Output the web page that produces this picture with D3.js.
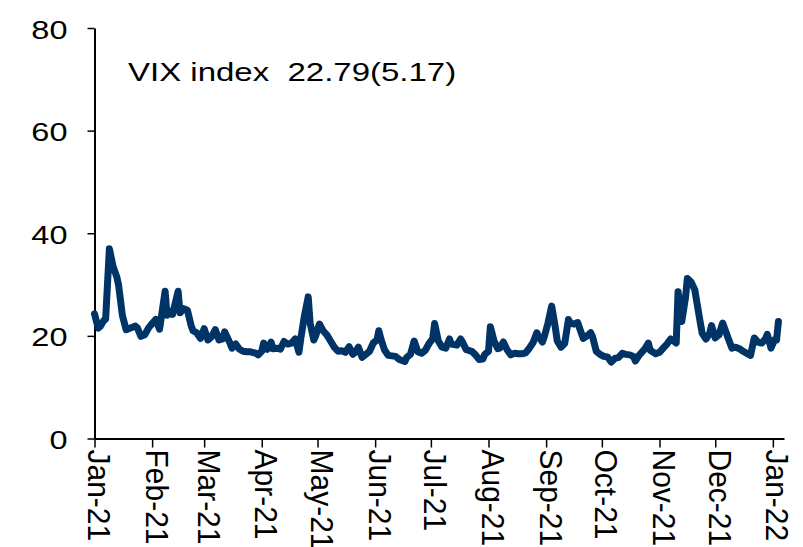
<!DOCTYPE html>
<html>
<head>
<meta charset="utf-8">
<script src="https://cdn.jsdelivr.net/npm/d3@7"></script>
<style>
  body { margin: 0; background: #fff; }
  svg { display: block; }
</style>
</head>
<body>
<svg id="chart" width="803" height="547"></svg>
<script>
// dates of the plotted points
var dates = [
  "2021-01-01","2021-01-03","2021-01-04","2021-01-06","2021-01-07","2021-01-09","2021-01-11","2021-01-13","2021-01-14","2021-01-16",
  "2021-01-18","2021-01-20","2021-01-23","2021-01-24","2021-01-26","2021-01-28","2021-01-30","2021-02-01","2021-02-03","2021-02-05",
  "2021-02-08","2021-02-09","2021-02-11","2021-02-12","2021-02-15","2021-02-16","2021-02-18","2021-02-20","2021-02-22","2021-02-23",
  "2021-02-25","2021-02-27","2021-03-01","2021-03-03","2021-03-05","2021-03-07","2021-03-09","2021-03-11","2021-03-12","2021-03-15",
  "2021-03-16","2021-03-18","2021-03-20","2021-03-22","2021-03-24","2021-03-26","2021-03-29","2021-03-30","2021-04-01","2021-04-02",
  "2021-04-04","2021-04-06","2021-04-07","2021-04-09","2021-04-11","2021-04-13","2021-04-15","2021-04-17","2021-04-19","2021-04-21",
  "2021-04-22","2021-04-24","2021-04-26","2021-04-27","2021-04-29","2021-04-30","2021-05-02","2021-05-04","2021-05-06","2021-05-08",
  "2021-05-10","2021-05-12","2021-05-14","2021-05-16","2021-05-18","2021-05-20","2021-05-21","2021-05-23","2021-05-25","2021-05-27",
  "2021-05-29","2021-05-31","2021-06-02","2021-06-03","2021-06-04","2021-06-06","2021-06-08","2021-06-10","2021-06-12","2021-06-14",
  "2021-06-17","2021-06-18","2021-06-20","2021-06-22","2021-06-24","2021-06-26","2021-06-28","2021-06-30","2021-07-02","2021-07-03",
  "2021-07-05","2021-07-07","2021-07-09","2021-07-11","2021-07-12","2021-07-15","2021-07-17","2021-07-18","2021-07-20","2021-07-23",
  "2021-07-25","2021-07-27","2021-07-29","2021-07-30","2021-08-01","2021-08-02","2021-08-04","2021-08-06","2021-08-07","2021-08-09",
  "2021-08-11","2021-08-13","2021-08-15","2021-08-17","2021-08-19","2021-08-21","2021-08-23","2021-08-25","2021-08-27","2021-08-28",
  "2021-08-30","2021-08-31","2021-09-02","2021-09-04","2021-09-06","2021-09-07","2021-09-09","2021-09-11","2021-09-13","2021-09-14",
  "2021-09-16","2021-09-18","2021-09-20","2021-09-21","2021-09-23","2021-09-25","2021-09-26","2021-09-28","2021-09-30","2021-10-02",
  "2021-10-04","2021-10-06","2021-10-08","2021-10-10","2021-10-12","2021-10-14","2021-10-16","2021-10-18","2021-10-19","2021-10-21",
  "2021-10-24","2021-10-26","2021-10-27","2021-10-30","2021-11-01","2021-11-03","2021-11-05","2021-11-07","2021-11-08","2021-11-10",
  "2021-11-11","2021-11-13","2021-11-15","2021-11-16","2021-11-18","2021-11-20","2021-11-21","2021-11-23","2021-11-24","2021-11-26",
  "2021-11-28","2021-11-29","2021-12-01","2021-12-03","2021-12-05","2021-12-06","2021-12-08","2021-12-10","2021-12-12","2021-12-14",
  "2021-12-16","2021-12-19","2021-12-20","2021-12-22","2021-12-24","2021-12-26","2021-12-28","2021-12-29","2021-12-31","2022-01-02",
  "2022-01-03","2022-01-04"
];

var vix = [
  24.3,21.5,21.8,23.0,23.3,37.0,33.5,31.5,29.8,24.0,
  21.2,21.5,21.9,21.6,19.9,20.2,21.5,22.4,23.2,21.3,
  28.7,24.0,24.8,24.2,28.7,24.5,25.3,25.0,22.0,21.0,
  20.6,19.5,21.4,19.2,19.8,21.2,19.2,19.4,20.8,18.5,
  17.6,18.4,17.4,17.0,16.9,16.9,16.6,16.3,17.0,18.6,
  17.4,18.8,17.5,17.6,17.4,18.9,18.4,18.6,19.4,16.8,
  19.5,24.0,27.6,22.5,19.2,20.0,22.3,21.0,20.2,19.0,
  17.8,17.0,17.1,16.8,17.9,16.4,16.7,17.8,15.8,16.4,
  17.0,18.6,19.2,21.0,19.5,17.3,16.2,16.1,16.0,15.4,
  15.0,15.8,16.4,19.0,16.9,16.6,17.2,18.5,19.5,22.4,
  19.0,17.8,17.6,19.4,18.4,18.2,19.4,18.8,17.3,17.0,
  16.3,15.4,15.5,16.4,17.0,21.8,19.0,17.5,17.6,18.8,
  17.3,16.3,16.6,16.5,16.5,16.7,17.6,18.7,20.6,19.8,
  18.8,19.8,22.5,25.8,21.5,19.0,17.8,18.5,23.2,22.5,
  22.3,22.6,20.5,19.5,20.0,20.6,19.8,17.0,16.4,16.0,
  15.9,14.9,15.6,15.8,16.6,16.4,16.3,16.0,15.1,16.2,
  17.4,18.6,17.2,16.5,16.8,17.6,18.4,19.4,19.2,18.6,
  28.6,22.8,27.5,31.2,30.5,29.0,26.8,22.5,20.5,19.4,
  20.5,22.0,19.6,20.2,22.5,21.5,19.5,17.6,17.8,17.5,
  17.0,16.4,16.2,19.6,18.8,18.6,19.4,20.3,17.6,19.3,
  19.2,22.8
];

var yTicks = [0, 20, 40, 60, 80];
var monthTicks = ["2021-01-01","2021-02-01","2021-03-01","2021-04-01","2021-05-01","2021-06-01",
  "2021-07-01","2021-08-01","2021-09-01","2021-10-01","2021-11-01","2021-12-01","2022-01-01"];
var title = "VIX index  22.79(5.17)";

var font = "'Liberation Sans', Arial, sans-serif";
var parse = d3.timeParse("%Y-%m-%d");
var fmt = d3.timeFormat("%b-%y");

var data = dates.map(function(d, i) { return {date: parse(d), v: vix[i]}; });

var svg = d3.select("#chart");

// scales
var x = d3.scaleTime()
    .domain([parse("2021-01-01"), parse("2022-01-07")])
    .range([94.5, 784]);
var y = d3.scaleLinear()
    .domain([0, 80])
    .range([438.5, 28]);

// Y axis
var yAxis = svg.append("g")
    .attr("transform", "translate(94.5,0)")
    .call(d3.axisLeft(y).tickValues(yTicks).tickSize(7).tickSizeOuter(0));
yAxis.select(".domain").attr("stroke", "#000").attr("stroke-width", 2);
yAxis.selectAll(".tick line").attr("stroke", "#000").attr("stroke-width", 1.5);
yAxis.selectAll("text")
    .attr("x", 0)
    .attr("dy", "0.4em")
    .attr("fill", "#000")
    .attr("font-size", 25)
    .attr("font-family", font)
    .attr("text-anchor", "end")
    .attr("transform", "translate(-27,0) scale(1.3,1)");

// X axis
var xAxis = svg.append("g")
    .attr("transform", "translate(0,438.5)")
    .call(d3.axisBottom(x)
        .tickValues(monthTicks.map(parse))
        .tickFormat(fmt)
        .tickSize(9)
        .tickSizeOuter(0));
xAxis.select(".domain").attr("stroke", "#000").attr("stroke-width", 2);
xAxis.selectAll(".tick line").attr("stroke", "#000").attr("stroke-width", 1.5);
xAxis.selectAll("text")
    .attr("x", 0)
    .attr("y", 0)
    .attr("dy", null)
    .attr("fill", "#000")
    .attr("font-size", 25)
    .attr("font-family", font)
    .attr("text-anchor", "start")
    .attr("transform", "translate(-7,11) rotate(90) scale(1.2,1.28)");

// line
var line = d3.line()
    .x(function(d) { return x(d.date); })
    .y(function(d) { return y(d.v); });

svg.append("path")
    .datum(data)
    .attr("fill", "none")
    .attr("stroke", "#003366")
    .attr("stroke-width", 7)
    .attr("stroke-linejoin", "round")
    .attr("stroke-linecap", "round")
    .attr("d", line);

// title
svg.append("text")
    .attr("transform", "translate(128,81) scale(1.32,1.02)")
    .attr("font-size", 25)
    .attr("font-family", font)
    .attr("fill", "#000")
    .style("white-space", "pre")
    .text(title);
</script>
</body>
</html>
